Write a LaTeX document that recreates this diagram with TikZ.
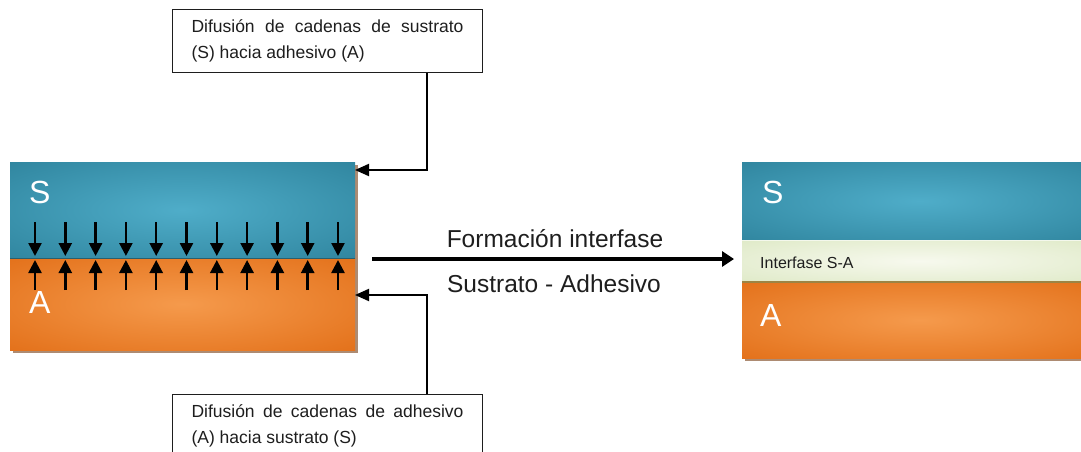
\documentclass[tikz,border=0pt]{standalone}
\usepackage{fontspec}
\setmainfont{Liberation Sans}
\usetikzlibrary{arrows.meta,calc}
\definecolor{sDark}{HTML}{2B7F98}
\definecolor{sLight}{HTML}{4FADC9}
\definecolor{aDark}{HTML}{E06A12}
\definecolor{aLight}{HTML}{F59A4C}
\definecolor{iDark}{HTML}{D9E6BE}
\definecolor{iLight}{HTML}{F7F9EE}
\definecolor{txt}{HTML}{1E1E1E}
\definecolor{shadowc}{HTML}{8A5A36}
\definecolor{seam}{HTML}{9C8444}
\definecolor{lseam}{HTML}{2A5F6E}
\pgfdeclareradialshading{sShade}{\pgfpoint{0bp}{0bp}}{color(0bp)=(sLight); color(42bp)=(sDark); color(80bp)=(sDark)}
\pgfdeclareradialshading{aShade}{\pgfpoint{0bp}{0bp}}{color(0bp)=(aLight); color(42bp)=(aDark); color(80bp)=(aDark)}
\pgfdeclareradialshading{iShade}{\pgfpoint{0bp}{0bp}}{color(0bp)=(iLight); color(45bp)=(iDark); color(80bp)=(iDark)}
\begin{document}
\begin{tikzpicture}[x=1pt,y=-1pt,
  layer/.style={shade, inner sep=0pt, outer sep=0pt, anchor=north west},
  letter/.style={text=white, font=\fontsize{32}{32}\selectfont, inner sep=0pt, anchor=base west},
  bigtxt/.style={text=txt, font=\fontsize{24.5}{26}\selectfont, inner sep=0pt, anchor=base},
  notebox/.style={draw=txt, line width=1pt, fill=white, text=txt, text width=272pt, align=justify,
    inner xsep=19pt, inner ysep=0pt, minimum height=63pt, anchor=north west,
    font=\fontsize{17.5}{26}\selectfont},
  conn/.style={draw=black, line width=2pt, -{Triangle[length=14pt,width=12pt]}},
  mainarrow/.style={draw=black, line width=4.5pt, -{Triangle[length=12pt,width=15pt]}},
  small/.style={draw=black, line width=2.5pt, -{Triangle[length=13pt,width=13pt]}}]
\useasboundingbox (0,0) rectangle (1081,452);
% shadows
\fill[shadowc, opacity=0.7] (13,165) rectangle (358,353);
\fill[shadowc, opacity=0.7] (745,165) rectangle (1100,361);
% left block
\node[layer, shading=sShade, minimum width=345pt, minimum height=96pt] (LS) at (10,162) {};
\node[layer, shading=aShade, minimum width=345pt, minimum height=92pt] (LA) at (10,258) {};
\draw[lseam, line width=1pt] (LS.south west) -- (LS.south east);
\node[letter] (tS1) at (29,203) {S};
\node[letter] (tA1) at (29,313) {A};
\foreach \i in {0,...,10} {
  \draw[small] ($(LS.north west)+(25+30.3*\i,60)$) -- ($(LS.north west)+(25+30.3*\i,94)$);
  \draw[small] ($(LA.north west)+(25+30.3*\i,32)$) -- ($(LA.north west)+(25+30.3*\i,2)$);
}
% right block
\node[layer, shading=sShade, minimum width=356pt, minimum height=78pt] (RS) at (742,162) {};
\node[layer, shading=iShade, minimum width=356pt, minimum height=42pt] (RI) at (742,240) {};
\node[layer, shading=aShade, minimum width=356pt, minimum height=76pt] (RA) at (742,282) {};
\draw[seam, line width=2pt] (RA.north west) -- (RA.north east);
\draw[white!70!iDark, line width=1pt] (RI.north west) -- (RI.north east);
\node[letter] (tS2) at (762,203) {S};
\node[letter] (tA2) at (760,326) {A};
\node[text=txt, font=\fontsize{16}{18}\selectfont, inner sep=0pt, anchor=base west] (tI) at (760,268) {Interfase S-A};
% note boxes
\node[notebox] (TB) at (172,9) {Difusión de cadenas de sustrato\linebreak (S) hacia adhesivo (A)};
\node[notebox] (BB) at (172,394) {Difusión de cadenas de adhesivo\linebreak (A) hacia sustrato (S)};
% connectors
\draw[conn] ([xshift=99pt]TB.south) |- ([yshift=-8pt]LS.north east);
\draw[conn] ([xshift=99pt]BB.north) |- ([yshift=-37pt]LA.north east);
% main arrow
\coordinate (ms) at ([xshift=17pt,yshift=-1pt]LA.north east);
\coordinate (me) at ([xshift=-8pt]RI.west);
\draw[mainarrow] (ms) -- (ms -| me);
\node[bigtxt] (f1) at (555,247) {Formación interfase};
\node[bigtxt] (f2) at (554,292) {Sustrato - Adhesivo};
\end{tikzpicture}
\end{document}
